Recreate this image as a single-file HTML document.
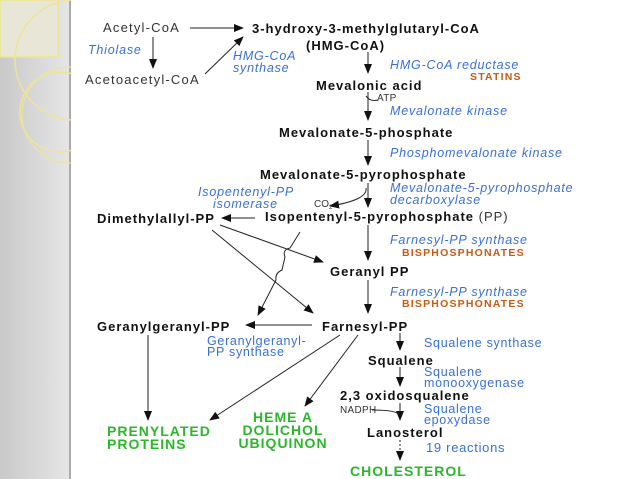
<!DOCTYPE html>
<html><head><meta charset="utf-8"><style>
html,body{margin:0;padding:0;background:#fff;}
svg{display:block}
text{font-family:"Liberation Sans",sans-serif;font-size:11px}
.b{font-weight:bold;fill:#111;font-size:13px;letter-spacing:1px}
.n{fill:#333;font-size:13px;letter-spacing:1.2px}
.e{fill:#3a6fd8;font-style:italic;font-size:12.5px;letter-spacing:0.8px}
.s{fill:#3a6fd8;font-size:12.5px;letter-spacing:0.7px}
.o{fill:#c85a14;font-weight:bold;font-size:10.5px;letter-spacing:1.2px}
.g{fill:#2ab82a;font-weight:bold;font-size:14px;letter-spacing:1px}
</style></head><body>
<svg width="638" height="479" viewBox="0 0 638 479">
<defs>
<linearGradient id="gr" x1="0" x2="1"><stop offset="0" stop-color="#c9c9c9"/><stop offset="1" stop-color="#e6e6e6"/></linearGradient>
<marker id="a" markerWidth="10" markerHeight="8" refX="9" refY="4" orient="auto" markerUnits="userSpaceOnUse"><path d="M0,0 L10,4 L0,8 z" fill="#111"/></marker>
</defs>
<rect x="0" y="0" width="70" height="479" fill="url(#gr)"/>
<rect x="69" y="0" width="2" height="479" fill="#aaa"/>
<rect x="0" y="0" width="58" height="57" fill="#e8e6d6" stroke="#f0e68c" stroke-width="1.5"/>
<circle cx="75" cy="60" r="60" fill="none" stroke="#efe39a" stroke-width="1.5"/>
<circle cx="60" cy="112" r="40" fill="none" stroke="#efe39a" stroke-width="1.5"/>
<circle cx="70" cy="115" r="48" fill="none" stroke="#efe39a" stroke-width="1.2"/>
<rect x="71" y="0" width="567" height="479" fill="#fff"/>

<g stroke="#222" stroke-width="1" fill="none" marker-end="url(#a)">
<line x1="190" y1="28" x2="243" y2="28"/>
<line x1="153" y1="37" x2="153" y2="68"/>
<line x1="205" y1="74" x2="243" y2="37"/>
<line x1="368" y1="52" x2="368" y2="73"/>
<line x1="368" y1="92" x2="368" y2="120"/>
<line x1="368" y1="140" x2="368" y2="165"/>
<line x1="368" y1="183" x2="368" y2="207"/>
<line x1="255" y1="218" x2="222" y2="218"/>
<line x1="368" y1="225" x2="368" y2="260"/>
<line x1="368" y1="280" x2="368" y2="313"/>
<line x1="312" y1="325" x2="246" y2="325"/>
<line x1="400" y1="333" x2="400" y2="350"/>
<line x1="400" y1="367" x2="400" y2="386"/>
<line x1="400" y1="403" x2="400" y2="420"/>
<line x1="400" y1="440" x2="400" y2="460" stroke-dasharray="2,2"/>
<line x1="148" y1="335" x2="148" y2="420"/>
<line x1="340" y1="335" x2="210" y2="420"/>
<line x1="358" y1="335" x2="305" y2="406"/>
<line x1="220" y1="225" x2="323" y2="262"/>
<line x1="212" y1="230" x2="313" y2="313"/>
<path d="M300,232 L290,248 Q282,250 285,257 L282,270 Q275,273 276,280 L258,315"/>
</g>
<path d="M366,188 Q368,200 330,206" stroke="#222" fill="none" marker-end="url(#a)"/>
<path d="M366,96 Q370,102 378,100" stroke="#222" fill="none"/>
<path d="M372,410 Q395,410 398,414" stroke="#222" fill="none"/>

<text x="103" y="32" class="n">Acetyl-CoA</text>
<text x="252" y="33" class="b">3-hydroxy-3-methylglutaryl-CoA</text>
<text x="306" y="50" class="b">(HMG-CoA)</text>
<text x="88" y="54" class="e">Thiolase</text>
<text x="233" y="60" class="e">HMG-CoA</text>
<text x="233" y="72" class="e">synthase</text>
<text x="85" y="84" class="n">Acetoacetyl-CoA</text>
<text x="390" y="69" class="e">HMG-CoA reductase</text>
<text x="470" y="80" class="o">STATINS</text>
<text x="316" y="90" class="b">Mevalonic acid</text>
<text x="377" y="101" class="n" style="font-size:10px;letter-spacing:0.3px">ATP</text>
<text x="390" y="115" class="e">Mevalonate kinase</text>
<text x="279" y="137" class="b">Mevalonate-5-phosphate</text>
<text x="390" y="157" class="e">Phosphomevalonate kinase</text>
<text x="260" y="179" class="b">Mevalonate-5-pyrophosphate</text>
<text x="390" y="192" class="e">Mevalonate-5-pyrophosphate</text>
<text x="390" y="204" class="e">decarboxylase</text>
<text x="314" y="207" class="n" style="font-size:10px;letter-spacing:0">CO<tspan font-size="6" dy="2">2</tspan></text>
<text x="198" y="196" class="e">Isopentenyl-PP</text>
<text x="213" y="208" class="e">isomerase</text>
<text x="97" y="223" class="b">Dimethylallyl-PP</text>
<text x="265" y="221" class="b">Isopentenyl-5-pyrophosphate <tspan font-weight="normal" fill="#333">(PP)</tspan></text>
<text x="390" y="244" class="e">Farnesyl-PP synthase</text>
<text x="402" y="256" class="o">BISPHOSPHONATES</text>
<text x="330" y="276" class="b">Geranyl PP</text>
<text x="390" y="296" class="e">Farnesyl-PP synthase</text>
<text x="402" y="307" class="o">BISPHOSPHONATES</text>
<text x="97" y="331" class="b">Geranylgeranyl-PP</text>
<text x="322" y="331" class="b">Farnesyl-PP</text>
<text x="207" y="345" class="s">Geranylgeranyl-</text>
<text x="207" y="356" class="s">PP synthase</text>
<text x="424" y="347" class="s">Squalene synthase</text>
<text x="368" y="365" class="b">Squalene</text>
<text x="424" y="376" class="s">Squalene</text>
<text x="424" y="387" class="s">monooxygenase</text>
<text x="340" y="400" class="b">2,3 oxidosqualene</text>
<text x="340" y="413" class="n" style="font-size:10px;letter-spacing:0.3px">NADPH</text>
<text x="424" y="413" class="s">Squalene</text>
<text x="424" y="424" class="s">epoxydase</text>
<text x="367" y="437" class="b">Lanosterol</text>
<text x="426" y="452" class="s" style="font-size:13px">19 reactions</text>
<text x="350" y="476" class="g">CHOLESTEROL</text>
<text x="107" y="436" class="g">PRENYLATED</text>
<text x="107" y="449" class="g">PROTEINS</text>
<text x="283" y="422" class="g" text-anchor="middle">HEME A</text>
<text x="283" y="435" class="g" text-anchor="middle">DOLICHOL</text>
<text x="283" y="448" class="g" text-anchor="middle">UBIQUINON</text>
</svg>
</body></html>
